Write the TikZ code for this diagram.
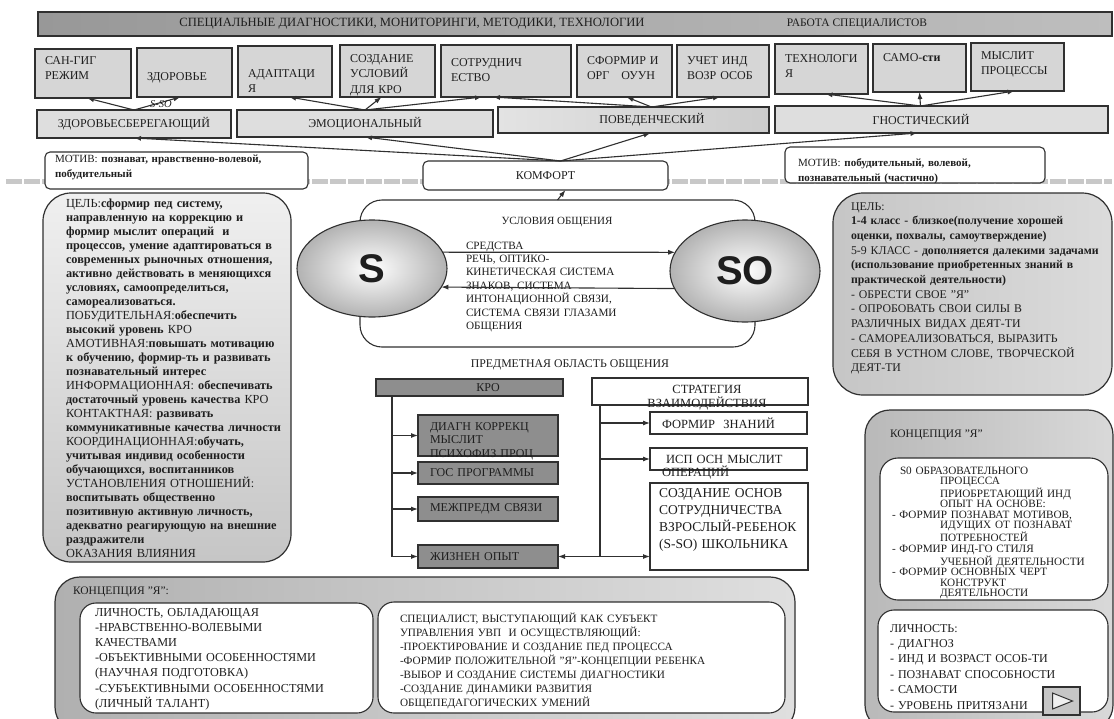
\documentclass[tikz,border=0pt]{standalone}
\usepackage{fontspec}
\setmainfont{Liberation Serif}
\newfontfamily\subjfont{Liberation Sans}
\usetikzlibrary{shapes.geometric, arrows.meta}

\definecolor{ink}{HTML}{1E1E1E}
\definecolor{edge}{HTML}{303030}
\definecolor{hdrdark}{HTML}{989898}
\definecolor{hdrlight}{HTML}{BEBEBE}
\definecolor{cellgray}{HTML}{D6D6D6}
\definecolor{rowgray}{HTML}{DEDEDE}
\definecolor{darkcell}{HTML}{8E8E8E}
\definecolor{bandgray}{HTML}{C8C8C8}

\begin{document}
\begin{tikzpicture}[x=1pt, y=-1pt, text=ink,
    font=\fontsize{12}{15.5}\selectfont,
    every node/.style={inner sep=0pt, outer sep=0pt},
    vspan/.style 2 args={text height=#1pt, text depth=#2pt},
    arr/.style={-{Latex[length=7pt,width=5pt]}, draw=edge, line width=1.1pt},
    cell/.style={draw=edge, line width=1.1pt, fill=cellgray, anchor=north west, inner xsep=10pt, align=left},
    rowcell/.style={draw=edge, line width=1.1pt, fill=rowgray, anchor=north west},
    note/.style={draw=edge, line width=1.1pt, fill=white, rounded corners=5pt, anchor=north west},
    panel/.style={draw=edge, line width=1.2pt, anchor=north west},
    dcell/.style={draw=edge, line width=1.1pt, fill=darkcell, anchor=north west, inner xsep=12pt, align=left, text width=116pt, font=\fontsize{12}{13.5}\selectfont},
    wcell/.style={draw=edge, line width=1.1pt, fill=white, anchor=north west, inner xsep=12pt, align=left, text width=133pt, font=\fontsize{12.5}{13}\selectfont},
    blob/.style={ellipse, draw=edge, line width=1.1pt, inner color=white, outer color=gray!60}
  ]
  \path[fill=white, use as bounding box] (0,0) rectangle (1114,718);

  % gray band behind the motive row
  \draw[bandgray, line width=5pt, dash pattern=on 16pt off 2pt] (6,181) -- (1112,181);

  % header
  \node[panel, left color=hdrdark, right color=hdrlight, minimum width=1074pt, minimum height=24pt] (hdr) at (38,12) {};
  \node[font=\fontsize{12.6}{15}\selectfont] (hdrleft) at (412,24) {СПЕЦИАЛЬНЫЕ ДИАГНОСТИКИ, МОНИТОРИНГИ, МЕТОДИКИ, ТЕХНОЛОГИИ};
  \node[font=\fontsize{11.5}{15}\selectfont] (hdrright) at (857,24) {РАБОТА СПЕЦИАЛИСТОВ};

  % top row
  \node[cell, text width=76pt, vspan={15}{34}] (sanrej) at (35,49) {САН-ГИГ\\РЕЖИМ};
  \node[cell, text width=75pt, vspan={32}{17}] (zdor) at (137,48) {ЗДОРОВЬЕ};
  \node[cell, text width=74pt, vspan={31}{20}] (adapt) at (238,46) {АДАПТАЦИ\\Я};
  \node[cell, text width=75pt, vspan={17}{35}] (uslov) at (340,45) {СОЗДАНИЕ\\УСЛОВИЙ\\ДЛЯ КРО};
  \node[cell, text width=110pt, vspan={21}{31}] (sotr) at (441,45) {СОТРУДНИЧ\\ЕСТВО};
  \node[cell, text width=75pt, vspan={19}{33}] (sform) at (577,45) {СФОРМИР И\\ОРГ\quad ОУУН};
  \node[cell, text width=72pt, vspan={19}{33}] (uchet) at (677,45) {УЧЕТ ИНД\\ВОЗР ОСОБ};
  \node[cell, text width=73pt, vspan={18}{32}] (tehn) at (775,44) {ТЕХНОЛОГИ\\Я};
  \node[cell, text width=73pt, vspan={17}{31}] (samo) at (873,44) {САМО-\textbf{сти}};
  \node[cell, text width=73pt, vspan={16}{32}] (mysl) at (971,43) {МЫСЛИТ\\ПРОЦЕССЫ};

  % second row
  \node[rowcell, minimum width=194pt, minimum height=28pt] (zdsb) at (37,110) {ЗДОРОВЬЕСБЕРЕГАЮЩИЙ};
  \node[rowcell, minimum width=256pt, minimum height=27pt] (emo) at (237,110) {ЭМОЦИОНАЛЬНЫЙ};
  \node[rowcell, left color=gray!22, middle color=white, right color=gray!40, minimum width=271pt, minimum height=26pt] (pov) at (498,107) {\hspace*{37pt}ПОВЕДЕНЧЕСКИЙ};
  \node[rowcell, minimum width=333pt, minimum height=27pt] (gnos) at (775,106) {ГНОСТИЧЕСКИЙ\hspace*{41pt}};

  \draw[arr] (zdsb.north) -- ([xshift=4pt]sanrej.south);
  \draw[arr] (zdsb.north) -- ([xshift=-4pt]zdor.south);
  \node[font=\fontsize{10.5}{12}\itshape] (ssolab) at (161,104) {S-SO};
  \draw[arr] (emo.north) -- ([xshift=4pt]adapt.south);
  \draw[arr] (emo.north) -- ([xshift=-6pt]uslov.south);
  \draw[arr] (emo.north) -- ([xshift=-24pt]sotr.south);
  \draw[arr] ([xshift=18pt]pov.north) -- ([xshift=-13pt]sotr.south);
  \draw[arr] ([xshift=18pt]pov.north) -- ([xshift=2pt]sform.south);
  \draw[arr] ([xshift=18pt]pov.north) -- ([xshift=-3pt]uchet.south);
  \draw[arr] ([xshift=-21pt]gnos.north) -- ([xshift=4pt]tehn.south);
  \draw[arr] ([xshift=-21pt]gnos.north) -- (samo.south);
  \draw[arr] ([xshift=-21pt]gnos.north) -- ([xshift=-3pt]mysl.south);

  % motives and comfort
  \node[note, font=\fontsize{11}{15}\selectfont, inner xsep=10pt, text width=243pt, align=left, vspan={10}{27}] (motl) at (45,152)
    {МОТИВ: \textbf{познават, нравственно-волевой,}\\\textbf{побудительный}};
  \node[note, font=\fontsize{11}{15}\selectfont, inner xsep=13pt, text width=234pt, align=left, vspan={19}{17}] (motr) at (785,147)
    {МОТИВ: \textbf{побудительный, волевой,}\\\textbf{познавательный (частично)}};
  \node[note, minimum width=245pt, minimum height=29pt] (komf) at (423,161) {КОМФОРТ};

  \draw[arr] ([xshift=15pt]komf.north) -- (zdsb.south);
  \draw[arr] ([xshift=15pt]komf.north) -- (emo.south);
  \draw[arr] ([xshift=15pt]komf.north) -- ([xshift=17pt]pov.south);
  \draw[arr] ([xshift=15pt]komf.north) -- ([xshift=-24pt]gnos.south);

  % left goal panel
  \node[panel, rounded corners=28pt, top color=gray!12, bottom color=gray!45, minimum width=248pt, minimum height=369pt] (goall) at (43,193) {};
  \node[anchor=base west, text width=222pt, align=left, font=\fontsize{12.3}{14}\selectfont] (goalltxt) at (66,207)
    {ЦЕЛЬ:\textbf{сформир пед систему,}\\
     \textbf{направленную на коррекцию и}\\
     \textbf{формир мыслит операций\ \ и}\\
     \textbf{процессов, умение адаптироваться в}\\
     \textbf{современных рыночных отношения,}\\
     \textbf{активно действовать в меняющихся}\\
     \textbf{условиях, самоопределиться,}\\
     \textbf{самореализоваться.}\\
     ПОБУДИТЕЛЬНАЯ:\textbf{обеспечить}\\
     \textbf{высокий уровень} КРО\\
     АМОТИВНАЯ:\textbf{повышать мотивацию}\\
     \textbf{к обучению, формир-ть и развивать}\\
     \textbf{познавательный интерес}\\
     ИНФОРМАЦИОННАЯ: \textbf{обеспечивать}\\
     \textbf{достаточный уровень качества} КРО\\
     КОНТАКТНАЯ: \textbf{развивать}\\
     \textbf{коммуникативные качества личности}\\
     КООРДИНАЦИОННАЯ:\textbf{обучать,}\\
     \textbf{учитывая индивид особенности}\\
     \textbf{обучающихся, воспитанников}\\
     УСТАНОВЛЕНИЯ ОТНОШЕНИЙ:\\
     \textbf{воспитывать общественно}\\
     \textbf{позитивную активную личность,}\\
     \textbf{адекватно реагирующую на внешние}\\
     \textbf{раздражители}\\
     ОКАЗАНИЯ ВЛИЯНИЯ};

  % right goal panel
  \node[panel, rounded corners=30pt, left color=gray!45, right color=gray!28, minimum width=279pt, minimum height=202pt] (goalr) at (833,193) {};
  \node[anchor=base west, text width=262pt, align=left, font=\fontsize{11.8}{14.7}\selectfont] (goalrtxt) at (851,210)
    {ЦЕЛЬ:\\
     \textbf{1-4 класс - близкое(получение хорошей}\\
     \textbf{оценки, похвалы, самоутверждение)}\\
     5-9 КЛАСС - \textbf{дополняется далекими задачами}\\
     \textbf{(использование приобретенных знаний в}\\
     \textbf{практической деятельности)}\\
     - ОБРЕСТИ СВОЕ "Я"\\
     - ОПРОБОВАТЬ СВОИ СИЛЫ В\\
     РАЗЛИЧНЫХ ВИДАХ ДЕЯТ-ТИ\\
     - САМОРЕАЛИЗОВАТЬСЯ, ВЫРАЗИТЬ\\
     СЕБЯ В УСТНОМ СЛОВЕ, ТВОРЧЕСКОЙ\\
     ДЕЯТ-ТИ};

  % conditions of communication
  \node[note, rounded corners=22pt, minimum width=395pt, minimum height=147pt] (usl) at (360,200) {};
  \node[font=\fontsize{11}{13}\selectfont] (usltitle) at (557,222) {УСЛОВИЯ ОБЩЕНИЯ};
  \node[anchor=base west, text width=200pt, align=left, font=\fontsize{11.2}{13.4}\selectfont] (sredstva) at (466,249)
    {СРЕДСТВА\\РЕЧЬ, ОПТИКО-\\КИНЕТИЧЕСКАЯ СИСТЕМА\\ЗНАКОВ, СИСТЕМА\\ИНТОНАЦИОННОЙ СВЯЗИ,\\СИСТЕМА СВЯЗИ ГЛАЗАМИ\\ОБЩЕНИЯ};
  \node[blob, minimum width=150pt, minimum height=97pt, font=\subjfont\bfseries\fontsize{40}{40}\selectfont] (subj) at (372,268.5) {S};
  \node[blob, minimum width=150pt, minimum height=102pt, font=\subjfont\bfseries\fontsize{40}{40}\selectfont] (obj) at (745,271) {SO};
  \draw[arr] (subj.13) -- (obj.165);
  \draw[arr] (obj.194) -- (subj.-15.5);
  \draw[arr] (usl.north) -- ([xshift=20pt]komf.south);

  % subject area
  \node[font=\fontsize{11.8}{14}\selectfont] (predm) at (570,365) {ПРЕДМЕТНАЯ ОБЛАСТЬ ОБЩЕНИЯ};
  \node[dcell, align=center, text width=163pt, minimum height=17pt] (kro) at (376,379) {\hspace*{37pt}КРО};
  \node[wcell, align=center, text width=192pt, vspan={15}{12}, font=\fontsize{12.5}{14}\selectfont] (strat) at (592,378) {\hspace*{14pt}СТРАТЕГИЯ\\\hspace*{14pt}ВЗАИМОДЕЙСТВИЯ};

  \node[dcell, vspan={15}{26}] (diag) at (418,415) {ДИАГН КОРРЕКЦ\\МЫСЛИТ\\ПСИХОФИЗ ПРОЦ};
  \node[dcell, minimum height=22pt] (gos) at (418,462) {ГОС ПРОГРАММЫ};
  \node[dcell, minimum height=24pt] (mezh) at (418,497) {МЕЖПРЕДМ СВЯЗИ};
  \node[dcell, minimum height=23pt] (zhiz) at (418,545) {ЖИЗНЕН ОПЫТ};

  \node[wcell, minimum height=22pt] (form) at (650,412) {ФОРМИР\ \ ЗНАНИЙ};
  \node[wcell, vspan={15}{7}] (isp) at (650,448) {\ ИСП ОСН МЫСЛИТ\\ОПЕРАЦИЙ};
  \node[wcell, inner xsep=9pt, text width=140pt, vspan={14}{73}, font=\fontsize{13.5}{17}\selectfont] (sozd) at (650,483)
    {СОЗДАНИЕ ОСНОВ\\СОТРУДНИЧЕСТВА\\ВЗРОСЛЫЙ-РЕБЕНОК\\(S-SO) ШКОЛЬНИКА};

  \coordinate (krofoot) at ([xshift=-77.5pt]kro.south);
  \coordinate (stratfoot) at ([xshift=-100pt]strat.south);
  \draw[arr] (krofoot) |- (diag.west);
  \draw[arr] (krofoot) |- (gos.west);
  \draw[arr] (krofoot) |- (mezh.west);
  \draw[arr] (krofoot) |- (zhiz.west);
  \draw[arr] (stratfoot) |- (form.west);
  \draw[arr] (stratfoot) |- (isp.west);
  \draw[draw=edge, line width=1.1pt] (stratfoot) -- (stratfoot |- zhiz.east);
  \draw[arr, {Latex[length=7pt,width=5pt]}-{Latex[length=7pt,width=5pt]}] (zhiz.east) -- (zhiz.east -| sozd.west);

  % bottom concept panel
  \node[panel, rounded corners=25pt, left color=gray!62, right color=gray!25, minimum width=740pt, minimum height=155pt] (conl) at (55,577) {};
  \node[anchor=base west, font=\fontsize{11.5}{14}\selectfont] (conltitle) at (73,594) {КОНЦЕПЦИЯ "Я":};
  \node[note, rounded corners=16pt, inner xsep=15pt, text width=263pt, align=left, vspan={13}{97}, font=\fontsize{12.2}{15.2}\selectfont] (lich) at (80,603)
    {ЛИЧНОСТЬ, ОБЛАДАЮЩАЯ\\
     -НРАВСТВЕННО-ВОЛЕВЫМИ\\
     КАЧЕСТВАМИ\\
     -ОБЪЕКТИВНЫМИ ОСОБЕННОСТЯМИ\\
     (НАУЧНАЯ ПОДГОТОВКА)\\
     -СУБЪЕКТИВНЫМИ ОСОБЕННОСТЯМИ\\
     (ЛИЧНЫЙ ТАЛАНТ)};
  \node[note, rounded corners=16pt, inner xsep=22pt, text width=363pt, align=left, vspan={20}{91}, font=\fontsize{11.2}{14}\selectfont] (spec) at (378,602)
    {СПЕЦИАЛИСТ, ВЫСТУПАЮЩИЙ КАК СУБЪЕКТ\\
     УПРАВЛЕНИЯ УВП\ \ И ОСУЩЕСТВЛЯЮЩИЙ:\\
     -ПРОЕКТИРОВАНИЕ И СОЗДАНИЕ ПЕД ПРОЦЕССА\\
     -ФОРМИР ПОЛОЖИТЕЛЬНОЙ "Я"-КОНЦЕПЦИИ РЕБЕНКА\\
     -ВЫБОР И СОЗДАНИЕ СИСТЕМЫ ДИАГНОСТИКИ\\
     -СОЗДАНИЕ ДИНАМИКИ РАЗВИТИЯ\\
     ОБЩЕПЕДАГОГИЧЕСКИХ УМЕНИЙ};

  % right concept panel
  \node[panel, rounded corners=25pt, left color=gray!55, right color=gray!30, minimum width=248pt, minimum height=320pt] (conr) at (865,410) {};
  \node[anchor=base west, font=\fontsize{11.5}{14}\selectfont] (conrtitle) at (890,437) {КОНЦЕПЦИЯ "Я"};
  \node[note, rounded corners=18pt, inner xsep=12pt, text width=204pt, align=left, vspan={16}{126}, font=\fontsize{11.2}{10.5}\selectfont] (soproc) at (880,458)
    {\hspace*{8pt}S0 ОБРАЗОВАТЕЛЬНОГО\\
     \hspace*{48pt}ПРОЦЕССА\\
     \hspace*{48pt}ПРИОБРЕТАЮЩИЙ ИНД\\
     \hspace*{48pt}ОПЫТ НА ОСНОВЕ:\\
     - ФОРМИР ПОЗНАВАТ МОТИВОВ,\\
     \hspace*{48pt}ИДУЩИХ ОТ ПОЗНАВАТ\\
     \hspace*{48pt}ПОТРЕБНОСТЕЙ\\
     - ФОРМИР ИНД-ГО СТИЛЯ\\
     \hspace*{48pt}УЧЕБНОЙ ДЕЯТЕЛЬНОСТИ\\
     - ФОРМИР ОСНОВНЫХ ЧЕРТ\\
     \hspace*{48pt}КОНСТРУКТ\\
     \hspace*{48pt}ДЕЯТЕЛЬНОСТИ};
  \node[note, rounded corners=16pt, inner xsep=12pt, text width=206pt, align=left, vspan={22}{80}, font=\fontsize{12}{15.4}\selectfont] (lichr) at (878,610)
    {ЛИЧНОСТЬ:\\
     - ДИАГНОЗ\\
     - ИНД И ВОЗРАСТ ОСОБ-ТИ\\
     - ПОЗНАВАТ СПОСОБНОСТИ\\
     - САМОСТИ\\
     - УРОВЕНЬ ПРИТЯЗАНИ};
  \node[draw=edge, line width=2pt, fill=gray!45, anchor=north west, minimum width=37pt, minimum height=28pt] (playbtn) at (1043,687) {};
  \draw[draw=edge, line width=1pt, fill=gray!12] ([xshift=-9pt,yshift=8pt]playbtn.center) -- ([xshift=11pt]playbtn.center) -- ([xshift=-9pt,yshift=-8pt]playbtn.center) -- cycle;
\end{tikzpicture}
\end{document}
